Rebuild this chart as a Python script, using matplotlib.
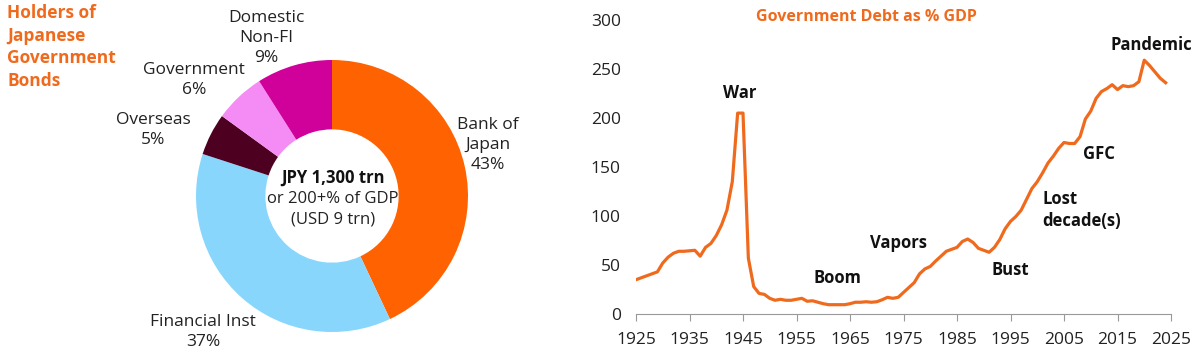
import matplotlib.pyplot as plt
import numpy as np

plt.rcParams['font.family'] = ['Open Sans', 'DejaVu Sans']

# donut: holders of JGBs
holders = ["Bank of\nJapan", "Financial Inst", "Overseas", "Government", "Domestic\nNon-FI"]
shares = [43, 37, 5, 6, 9]
holder_colors = ["#FF6200", "#89D6FD", "#4D0020", "#F58CF5", "#D0009B"]

# debt as % of GDP
years = list(range(1925, 2025))
debt = [35, 37, 39, 41, 43, 52, 58, 62, 64, 64, 64.5, 65, 59, 68, 72,
        80, 91, 106, 135, 205, 205, 57, 28, 21, 20, 16, 14, 15, 14, 14,
        15, 16, 13, 13.5, 12, 10.5, 9.5, 9.5, 9.5, 9.5, 10.5, 12, 12, 12.5, 12,
        12.5, 14.5, 17, 16, 17, 22, 27, 32, 41, 46, 48.5, 54, 59, 64, 66,
        68, 74, 76.5, 73, 67, 65, 63, 68, 76, 87, 94.5, 99.5, 106, 117, 128,
        135, 144, 154, 161, 169, 175, 174, 174, 181, 199, 207, 220, 227, 230, 234,
        229, 233, 232, 233, 237, 259, 253.5, 247, 240.5, 236]
events = ["War", "Boom", "Vapors", "Bust", "Lost\ndecade(s)", "GFC", "Pandemic"]
event_x = [1944.4, 1962.6, 1974, 1994.9, 2001, 2011.5, 2021.4]
event_y = [226, 37, 72, 45, 106, 163, 275]
event_ha = ["center", "center", "center", "center", "left", "center", "center"]

orange = "#F06A1D"
fig = plt.figure(figsize=(12, 3.56), dpi=100)

# left panel
fig.text(0.006, 0.988, "Holders of\nJapanese\nGovernment\nBonds", color=orange,
         fontsize=12.5, fontweight="bold", va="top", ha="left", linespacing=1.32)

ax1 = fig.add_axes([196 / 1200, 1 - 332 / 356, 272 / 1200, 272 / 356])
ax1.pie(shares, colors=holder_colors, startangle=90, counterclock=False,
        radius=1, wedgeprops=dict(width=0.51, linewidth=0))
ax1.set_xlim(-1, 1)
ax1.set_ylim(-1, 1)
ax1.set_aspect("equal")
ax1.axis("off")

label_pos = [(488, 145), (203, 332), (153, 130), (194, 80), (266, 38)]
for name, share, (px, py) in zip(holders, shares, label_pos):
    fig.text(px / 1200, 1 - py / 356, f"{name}\n{share}%", ha="center", va="center",
             fontsize=12.5, color="#222222", linespacing=1.35)

fig.text(333 / 1200, 1 - 178 / 356, "JPY 1,300 trn", ha="center", va="center",
         fontsize=12, fontweight="bold", color="#111111")
fig.text(333 / 1200, 1 - 199 / 356, "or 200+% of GDP", ha="center", va="center",
         fontsize=12, color="#222222")
fig.text(333 / 1200, 1 - 220 / 356, "(USD 9 trn)", ha="center", va="center",
         fontsize=12, color="#222222")

# right panel
ax2 = fig.add_axes([636 / 1200, 1 - 314 / 356, 535 / 1200, 294 / 356])
ax2.plot(years, debt, color=orange, linewidth=2.3, solid_joinstyle="round")
ax2.set_xlim(1925, 2025)
ax2.set_ylim(0, 300)
ax2.set_xticks(range(1925, 2026, 10))
ax2.set_yticks(range(0, 301, 50))
for s in ["top", "right", "left"]:
    ax2.spines[s].set_visible(False)
ax2.spines["bottom"].set_color("#999999")
ax2.tick_params(axis="x", colors="#999999", labelcolor="#222222", labelsize=12.5,
                length=5, direction="out", pad=8)
ax2.tick_params(axis="y", length=0, labelsize=12.5, labelcolor="#222222", pad=11)
fig.text(866 / 1200, 1 - 17 / 356, "Government Debt as % GDP", color=orange,
         fontsize=11.5, fontweight="bold", ha="center", va="center")

for t, x, y, ha in zip(events, event_x, event_y, event_ha):
    ax2.text(x, y, t, ha=ha, va="center", fontsize=12, fontweight="bold",
             color="#111111", linespacing=1.3)

plt.savefig("out.png", dpi=100)
